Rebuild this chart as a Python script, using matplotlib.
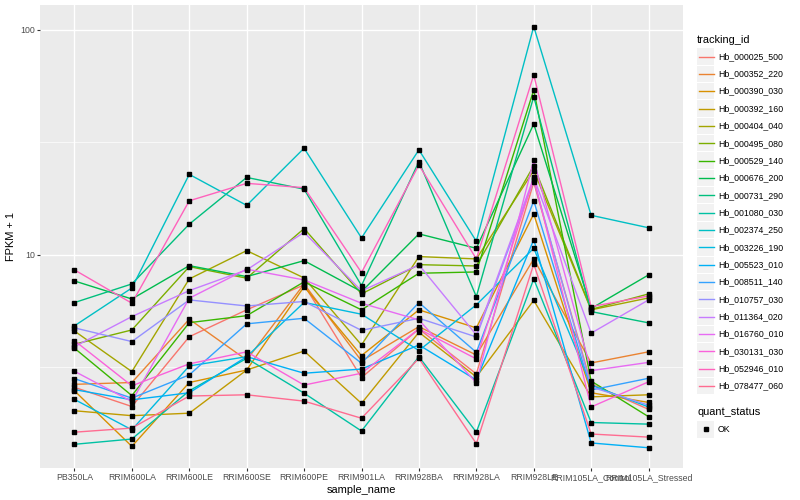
import matplotlib

matplotlib.use("Agg")
import matplotlib.pyplot as plt
from matplotlib.lines import Line2D
from matplotlib.patches import Rectangle
from matplotlib.ticker import FixedLocator, NullFormatter

plt.rcParams["font.family"] = ["Liberation Sans", "DejaVu Sans"]

samples = ["PB350LA", "RRIM600LA", "RRIM600LE", "RRIM600SE", "RRIM600PE",
           "RRIM901LA", "RRIM928BA", "RRIM928LA", "RRIM928LE",
           "RRIM105LA_Control", "RRIM105LA_Stressed"]

tracking_ids = ["Hb_000025_500", "Hb_000352_220", "Hb_000390_030", "Hb_000392_160",
                "Hb_000404_040", "Hb_000495_080", "Hb_000529_140", "Hb_000676_200",
                "Hb_000731_290", "Hb_001080_030", "Hb_002374_250", "Hb_003226_190",
                "Hb_005523_010", "Hb_008511_140", "Hb_010757_030", "Hb_011364_020",
                "Hb_016760_010", "Hb_030131_030", "Hb_052946_010", "Hb_078477_060"]

# FPKM + 1 per sample
hb_000025_500 = [2.58, 2.12, 4.33, 5.70, 7.36, 2.85, 4.69, 2.96, 21.0, 2.67, 2.06]
hb_000352_220 = [2.66, 2.71, 5.18, 3.41, 7.43, 3.38, 4.80, 3.59, 9.60, 3.31, 3.71]
hb_000390_030 = [2.49, 1.41, 2.71, 3.08, 7.23, 3.57, 5.70, 4.74, 15.2, 2.44, 2.21]
hb_000392_160 = [2.03, 1.93, 1.98, 3.08, 3.74, 2.19, 4.53, 2.87, 6.28, 2.34, 2.39]
hb_000404_040 = [4.59, 3.03, 7.82, 10.45, 7.90, 3.98, 9.83, 9.60, 23.7, 5.70, 6.44]
hb_000495_080 = [4.01, 4.64, 8.87, 7.88, 13.1, 6.71, 9.05, 8.93, 24.9, 5.73, 6.71]
hb_000529_140 = [3.85, 2.37, 5.00, 5.37, 7.59, 5.70, 8.29, 8.40, 54.1, 2.75, 1.91]
hb_000676_200 = [7.66, 6.37, 8.96, 8.01, 9.43, 6.87, 12.4, 10.7, 38.2, 5.78, 8.15]
hb_000731_290 = [6.14, 7.43, 13.7, 22.1, 19.6, 7.31, 26.0, 6.53, 50.5, 5.60, 4.99]
hb_001080_030 = [1.44, 1.52, 2.49, 3.47, 2.43, 1.65, 3.53, 1.63, 7.82, 1.80, 1.77]
hb_002374_250 = [4.84, 7.13, 22.8, 16.6, 29.8, 11.9, 29.3, 11.5, 103.5, 15.0, 13.2]
hb_003226_190 = [2.28, 1.67, 3.21, 3.53, 6.15, 5.45, 3.76, 6.00, 10.7, 2.64, 2.11]
hb_005523_010 = [2.52, 2.27, 2.44, 3.53, 2.98, 3.11, 3.98, 2.78, 11.7, 1.46, 1.39]
hb_008511_140 = [2.82, 2.31, 2.93, 4.94, 5.23, 3.30, 6.14, 3.69, 17.4, 2.51, 2.83]
hb_010757_030 = [4.74, 4.12, 6.31, 5.93, 6.21, 4.62, 5.23, 4.32, 21.5, 2.59, 2.15]
hb_011364_020 = [3.91, 5.32, 6.94, 8.58, 12.6, 6.92, 9.03, 4.41, 22.1, 4.49, 6.31]
hb_016760_010 = [3.04, 2.23, 6.42, 8.64, 7.74, 6.10, 5.14, 2.70, 26.3, 3.06, 3.33]
hb_030131_030 = [4.16, 2.62, 3.28, 3.71, 2.64, 2.98, 4.69, 3.45, 22.0, 2.11, 2.73]
hb_052946_010 = [8.58, 6.10, 17.4, 20.8, 19.9, 8.35, 25.1, 9.60, 63.1, 5.89, 6.57]
hb_078477_060 = [1.63, 1.70, 2.36, 2.39, 2.24, 1.88, 3.47, 1.45, 9.10, 1.60, 1.55]

series = [hb_000025_500, hb_000352_220, hb_000390_030, hb_000392_160, hb_000404_040,
          hb_000495_080, hb_000529_140, hb_000676_200, hb_000731_290, hb_001080_030,
          hb_002374_250, hb_003226_190, hb_005523_010, hb_008511_140, hb_010757_030,
          hb_011364_020, hb_016760_010, hb_030131_030, hb_052946_010, hb_078477_060]

# ggplot2 default hue palette, 20 levels
hue = ["#F8766D", "#EA8331", "#D89000", "#C09B00", "#A3A500", "#7CAE00", "#39B600",
       "#00BB4E", "#00BF7D", "#00C1A3", "#00BFC4", "#00BAE0", "#00B0F6", "#35A2FF",
       "#9590FF", "#C77CFF", "#E76BF3", "#FA62DB", "#FF62BC", "#FF6C91"]

PANEL = "#EBEBEB"
KEY_BG = "#F2F2F2"
TICK_TXT = "#4D4D4D"
TICK = "#333333"

W, H = 800, 500
fig = plt.figure(figsize=(W / 100, H / 100), dpi=100)
ax = fig.add_axes([40 / W, 1 - 468 / H, (683 - 40) / W, (468 - 5) / H])
ax.set_facecolor(PANEL)
for s in ax.spines.values():
    s.set_visible(False)

x = list(range(len(samples)))
for vals, col in zip(series, hue):
    ax.plot(x, vals, color=col, lw=1.0, zorder=2)
for vals in series:
    ax.plot(x, vals, ls="none", marker="s", ms=2.8, color="black", zorder=3)

ax.set_yscale("log")
ax.set_ylim(1.13, 129)
ax.set_xlim(-0.6, len(samples) - 0.4)
ax.yaxis.set_major_locator(FixedLocator([10, 100]))
ax.set_yticklabels(["10", "100"])
ax.yaxis.set_minor_locator(FixedLocator([10 ** 0.5, 10 ** 1.5]))
ax.yaxis.set_minor_formatter(NullFormatter())
ax.set_xticks(x)
ax.set_xticklabels(samples)
ax.tick_params(axis="both", which="major", length=2, width=0.8, color=TICK,
               labelsize=6.3, labelcolor=TICK_TXT, pad=1.5)
ax.tick_params(axis="y", which="minor", length=0)
ax.grid(which="major", color="white", lw=1.0)
ax.grid(which="minor", axis="y", color="white", lw=0.5)
ax.set_axisbelow(True)
ax.set_xlabel("sample_name", fontsize=7.9, labelpad=2)
ax.set_ylabel("FPKM + 1", fontsize=7.9, labelpad=3)


def fx(px):
    return px / W


def fy(py):
    return 1 - py / H


# legend: tracking_id
fig.text(fx(697), fy(40), "tracking_id", fontsize=7.9, va="center", ha="left")
step = 17.35
for i, (name, col) in enumerate(zip(tracking_ids, hue)):
    cy = 56.5 + i * step
    fig.patches.append(Rectangle((fx(697), fy(cy + step / 2 - 0.5)), 17 / W, (step - 1) / H,
                                 transform=fig.transFigure, facecolor=KEY_BG,
                                 edgecolor="none"))
    fig.lines.append(Line2D([fx(698.5), fx(713.5)], [fy(cy), fy(cy)], color=col, lw=1.0,
                            transform=fig.transFigure))
    fig.text(fx(718), fy(cy), name, fontsize=6.3, va="center", ha="left")

# legend: quant_status
fig.text(fx(697), fy(412), "quant_status", fontsize=7.9, va="center", ha="left")
fig.patches.append(Rectangle((fx(697), fy(437.5)), 17 / W, 16.5 / H,
                             transform=fig.transFigure, facecolor=KEY_BG, edgecolor="none"))
fig.lines.append(Line2D([fx(705.5)], [fy(429)], ls="none", marker="s", ms=2.8, color="black",
                        transform=fig.transFigure))
fig.text(fx(718), fy(429), "OK", fontsize=6.3, va="center", ha="left")

fig.savefig("out.png", dpi=100)
